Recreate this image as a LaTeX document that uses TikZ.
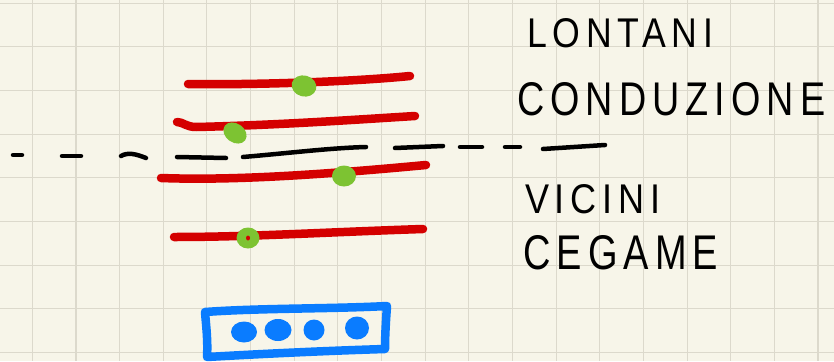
\documentclass[tikz,border=0pt]{standalone}
\usepackage{fontspec}
\setmainfont{Liberation Sans}
\definecolor{paper}{HTML}{F7F5E9}
\definecolor{gridc}{HTML}{DCD9CC}
\definecolor{redpen}{HTML}{D40000}
\definecolor{greenpen}{HTML}{7DC332}
\definecolor{bluepen}{HTML}{0A7CFF}
\tikzset{
  gridline/.style={gridc, line width=1.1pt},
  redstroke/.style={redpen, line width=8.5pt, line cap=round, line join=round},
  dashstroke/.style={black, line width=4.5pt, line cap=round},
  greendot/.style={fill=greenpen, draw=none},
  bluestroke/.style={bluepen, line width=8.5pt, line cap=round, line join=round},
  bluedot/.style={fill=bluepen, draw=none},
  label/.style={inner sep=0pt, anchor=north west}
}
\newfontfamily\handfont[LetterSpace=16]{Liberation Sans}
\begin{document}
\begin{tikzpicture}[x=1pt,y=-1pt]
\fill[paper] (0,0) rectangle (834,361);
\useasboundingbox (0,0) rectangle (834,361);
% grid
\foreach \i in {0,...,18} \draw[gridline] ({32.3+43.65*\i},0) -- ({32.3+43.65*\i},361);
\foreach \j in {0,...,8} \draw[gridline] (0,{3.3+43.65*\j}) -- (834,{3.3+43.65*\j});
% red levels
\draw[redstroke] (188,84) .. controls (250,85) and (350,82) .. (410,76);
\draw[redstroke] (177,122) .. controls (183,122) and (186,127) .. (196,127)
                 .. controls (280,125) and (350,120) .. (415,116);
\draw[redstroke] (161,178) .. controls (240,181) and (340,173) .. (426,165);
\draw[redstroke] (174,237) .. controls (250,237) and (330,232) .. (423,229);
% dashed separator
\draw[dashstroke] (13,155) -- (22,155);
\draw[dashstroke] (62,156) -- (81,156);
\draw[dashstroke] (121,156) .. controls (128,152) and (136,154) .. (146,158);
\draw[dashstroke] (177,157) -- (226,158);
\draw[dashstroke] (243,157) .. controls (290,153) and (330,148) .. (366,147);
\draw[dashstroke] (395,148) -- (443,146);
\draw[dashstroke] (460,147) -- (482,147);
\draw[dashstroke] (505,147) -- (520,147);
\draw[dashstroke] (543,149) -- (605,145);
% green electrons
\fill[greendot, rotate around={-15:(304,86)}] (304,86) ellipse [x radius=12.5pt, y radius=10.5pt];
\fill[greendot, rotate around={-35:(235,133)}] (235,133) ellipse [x radius=12.5pt, y radius=9.5pt];
\fill[greendot] (344,176) ellipse [x radius=12pt, y radius=10.5pt];
\fill[greendot] (248,238) ellipse [x radius=11.5pt, y radius=10.5pt];
\fill[redpen] (248,238) ellipse [x radius=2pt, y radius=2.5pt];
% blue box with dots
\draw[bluestroke] (205,312) .. controls (260,308) and (330,309) .. (387,306)
                 .. controls (386,320) and (385,335) .. (385,349)
                 .. controls (320,351) and (260,354) .. (207,357)
                 .. controls (208,340) and (206,325) .. cycle;
\fill[bluedot] (244,332) ellipse [x radius=13pt, y radius=10.5pt];
\fill[bluedot] (278,330) ellipse [x radius=13.5pt, y radius=11pt];
\fill[bluedot] (314,330) ellipse [x radius=10.5pt, y radius=10.5pt];
\fill[bluedot] (357,328) ellipse [x radius=12pt, y radius=11.5pt];
% labels
\node[label] (lontani) at (527,18) {\resizebox{186pt}{29pt}{\handfont LONTANI}};
\node[label] (conduzione) at (517,82) {\resizebox{308pt}{33pt}{\handfont CONDUZIONE}};
\node[label] (vicini) at (525,184) {\resizebox{135pt}{29pt}{\handfont VICINI}};
\node[label] (cegame) at (523,235) {\resizebox{195pt}{34pt}{\handfont CEGAME}};
\end{tikzpicture}
\end{document}
